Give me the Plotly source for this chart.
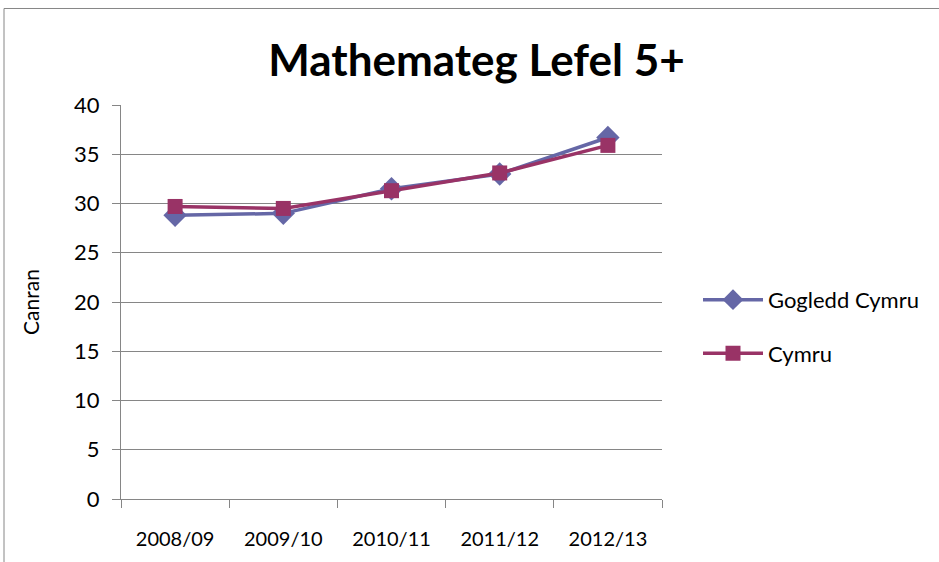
import plotly.graph_objects as go

categories = ["2008/09", "2009/10", "2010/11", "2011/12", "2012/13"]
gogledd_cymru = [28.8, 29.0, 31.5, 33.0, 36.7]
cymru = [29.7, 29.5, 31.3, 33.1, 35.9]
y_ticks = [0, 5, 10, 15, 20, 25, 30, 35, 40]

FONT = "Lato, Open Sans, sans-serif"

fig = go.Figure()
fig.add_trace(go.Scatter(
    x=categories, y=gogledd_cymru, name="Gogledd Cymru", mode="lines+markers",
    line=dict(color="#6567A6", width=3.5),
    marker=dict(symbol="diamond", size=18, color="#6567A6"),
    legendgroup="a",
))
fig.add_trace(go.Scatter(
    x=categories, y=cymru, name="Cymru", mode="lines+markers",
    line=dict(color="#993366", width=3.5),
    marker=dict(symbol="square", size=15, color="#993366"),
    legendgroup="b",
))

W, H = 939, 562
L, R, T, B = 121, 662, 105, 501
pw, ph = R - L, B - T

def px_x(p):
    return (p - L) / pw

def px_y(p):
    return (B - p) / ph

fig.update_layout(
    width=W, height=H,
    margin=dict(l=L, r=W - R, t=T, b=H - B),
    paper_bgcolor="white", plot_bgcolor="white",
    font=dict(family=FONT, size=20, color="black"),
    title=dict(text="<b>Mathemateg Lefel 5+</b>", x=476.5 / W, xanchor="center",
               y=1 - 61 / H, yanchor="middle",
               font=dict(size=44, family=FONT, color="black")),
    showlegend=True,
    legend=dict(x=px_x(698), y=px_y(328), xanchor="left", yanchor="middle",
                font=dict(size=22, family=FONT), itemwidth=60,
                tracegroupgap=22, bgcolor="rgba(0,0,0,0)"),
    xaxis=dict(type="category", categoryorder="array", categoryarray=categories,
               showline=True, linecolor="#868686", linewidth=1,
               ticks="outside", tickson="boundaries", ticklen=8, tickcolor="#868686",
               showgrid=False, tickfont=dict(size=20), ticklabelstandoff=22,
               range=[-0.5, 4.5]),
    yaxis=dict(range=[0, 40], tickvals=y_ticks, showline=True, linecolor="#868686",
               linewidth=1, ticks="outside", ticklen=8, tickcolor="#868686",
               showgrid=True, gridcolor="#868686", gridwidth=1,
               tickfont=dict(size=22), zeroline=False, ticklabelstandoff=8,
               title=dict(text="Canran", font=dict(size=21), standoff=28)),
    shapes=[dict(type="rect", xref="paper", yref="paper",
                 x0=px_x(4), x1=px_x(960), y0=px_y(580), y1=px_y(8),
                 line=dict(color="#868686", width=1), layer="below")],
)

fig.write_html("out.html", config={"displayModeBar": False},
               post_script="document.body.style.margin='0';")
